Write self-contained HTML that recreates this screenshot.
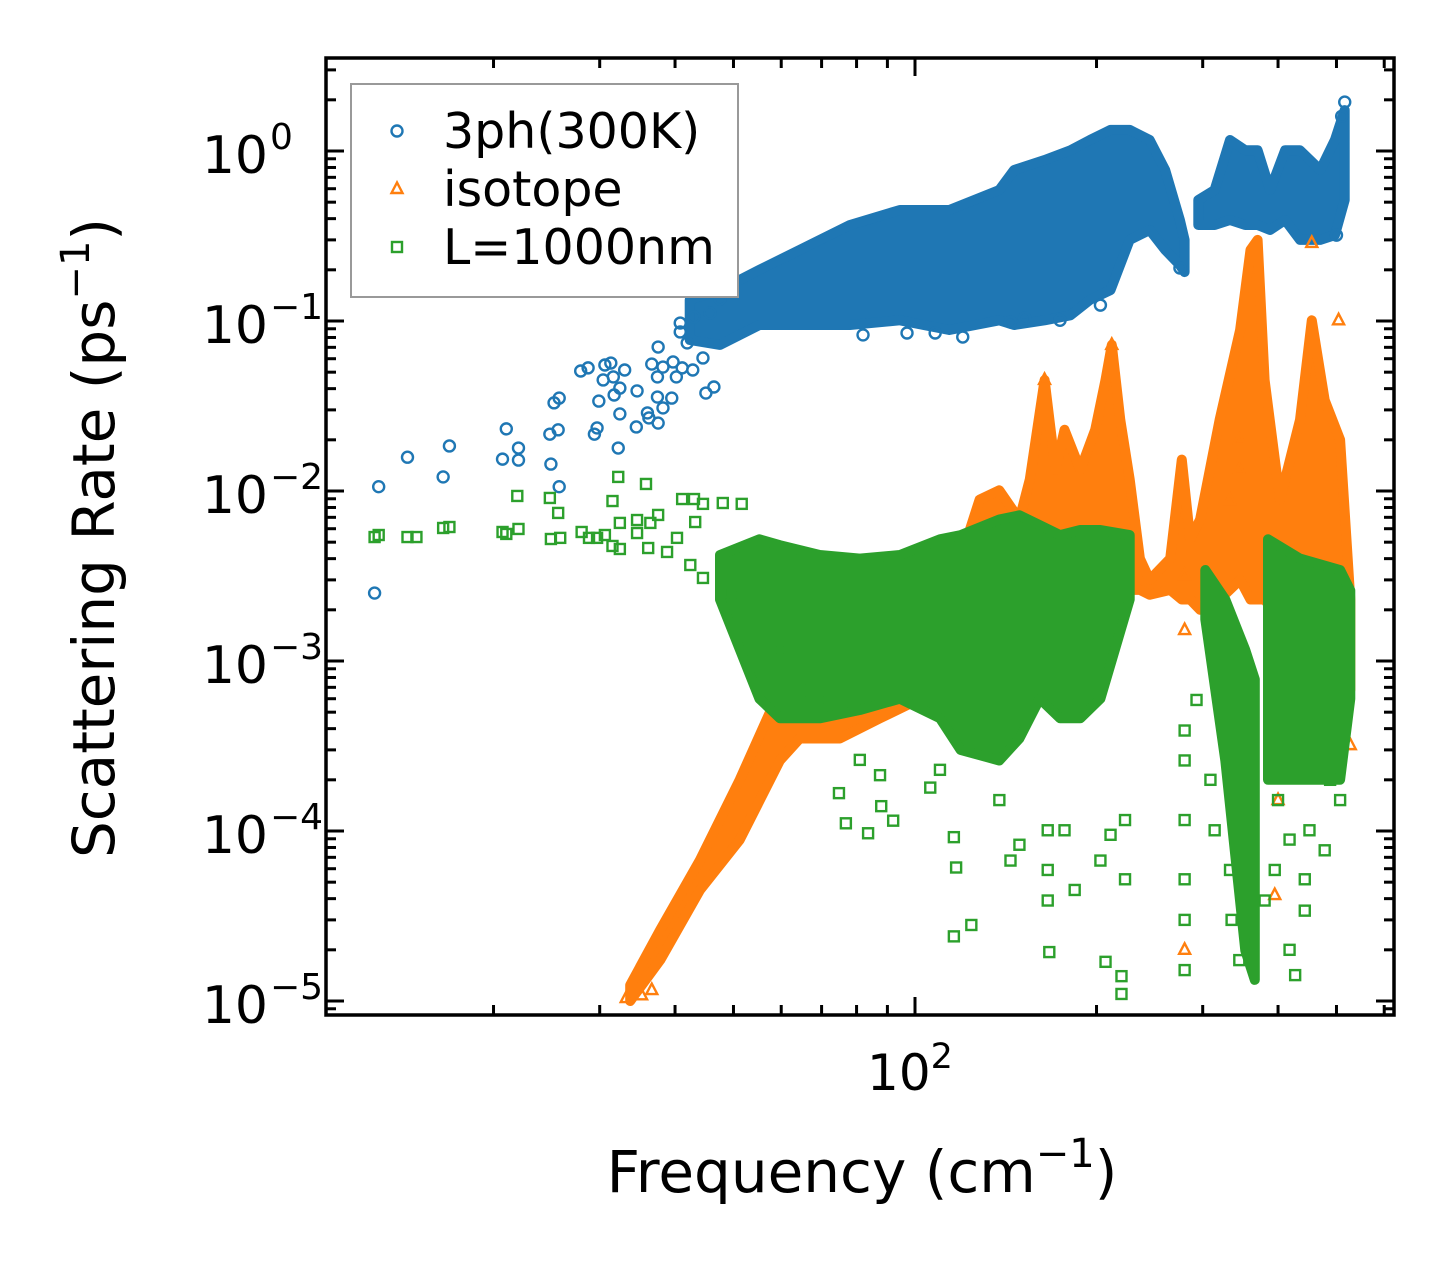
<!DOCTYPE html>
<html><head><meta charset="utf-8">
<style>
html,body{margin:0;padding:0;background:#fff;}
svg{display:block;font-family:"DejaVu Sans","Liberation Sans",sans-serif;}
</style></head>
<body>
<svg id="chart" xmlns="http://www.w3.org/2000/svg" width="1455" height="1265" viewBox="0 0 1455 1265">
<rect x="0" y="0" width="1455" height="1265" fill="#fff"/>
<g id="layer-blue"></g>
<g id="layer-orange"></g>
<g id="layer-green"></g>
<g id="axes"></g>
</svg>
<script>
// ---- data ----
const xMajorTicks = [100];
const xMinorTicks = [20,30,40,50,60,70,80,90,200,300,400,500,600];
const yMajorExps = [0,-1,-2,-3,-4,-5];
const yTickLabels = ["0","−1","−2","−3","−4","−5"];
const seriesNames = ["3ph(300K)","isotope","L=1000nm"];

// 3ph scattered points
const blueFreq = [12.7,12.9,14.4,16.5,16.9,21.0,20.7,22.0,22.0,24.8,24.9,25.7,25.6,25.2,25.7,27.9,28.7,30.6,31.3,33.0,30.4,31.6,32.4,31.7,29.9,34.6,32.4,29.7,29.4,32.2,34.5,36.0,36.2,37.5,37.4,38.2,39.5,36.6,37.4,38.2,40.2,41.1,42.8,45.0,46.4,37.5,40.8,43.0,40.8,44.5,47.5,45.7,41.9,39.7,82.0,97.0,108,120,144,152,174,203,275,500,516,510];
const blueRate = [0.00251,0.0106,0.0158,0.0121,0.0184,0.0232,0.0154,0.0179,0.0152,0.0216,0.0144,0.0106,0.0229,0.033,0.0352,0.0508,0.053,0.0551,0.0566,0.0515,0.045,0.0469,0.0403,0.0367,0.0338,0.0388,0.0284,0.0235,0.0216,0.0179,0.0238,0.0288,0.0269,0.0251,0.0357,0.0308,0.0352,0.0558,0.0469,0.0536,0.0469,0.053,0.0515,0.0377,0.0409,0.0703,0.0973,0.1056,0.0862,0.0606,0.135,0.1115,0.0743,0.0574,0.0828,0.085,0.085,0.0805,0.0986,0.104,0.101,0.124,0.205,0.32,1.94,1.6];
// 3ph dense envelope (two segments)
const blueBandFreq1 = [42.3,47.5,55.2,64.4,78.0,94.4,114,138,146,164,181,195,211,227,245,260,275,280];
const blueBandLow1  = [0.0773,0.0723,0.0947,0.0947,0.0947,0.101,0.0885,0.101,0.0947,0.101,0.108,0.133,0.152,0.30,0.343,0.262,0.213,0.194];
const blueBandHigh1 = [0.133,0.152,0.20,0.262,0.367,0.45,0.45,0.59,0.773,0.885,1.01,1.16,1.33,1.33,1.16,0.773,0.393,0.30];
const blueBandFreq2 = [295,314,333,353,370,388,411,435,470,497,516];
const blueBandLow2  = [0.367,0.367,0.393,0.367,0.367,0.343,0.393,0.30,0.30,0.32,0.515];
const blueBandHigh2 = [0.515,0.59,1.16,1.01,1.01,0.59,1.01,1.01,0.773,1.16,1.74];

// isotope envelope
const orangeBandFreq = [33.7,37.8,44.0,51.2,59.7,64.4,75.0,87.5,102,119,128,138,149,155,164,171,177,188,199,207,212,219,227,236,245,265,277,286,297,320,346,360,370,380,403,435,455,478,507,527];
const orangeBandLow  = [0.00001,0.0000174,0.000045,0.0000886,0.00026,0.00035,0.00035,0.00046,0.0006,0.00078,0.00135,0.00135,0.00176,0.00176,0.0023,0.0023,0.0023,0.0030,0.0030,0.00262,0.00262,0.00262,0.00262,0.00262,0.00245,0.00262,0.0023,0.0023,0.0020,0.0023,0.0030,0.0023,0.0023,0.0023,0.00176,0.00135,0.00135,0.00135,0.00116,0.000675];
const orangeBandHigh = [0.0000124,0.0000262,0.0000675,0.0002,0.000675,0.00103,0.00135,0.00135,0.00176,0.0040,0.0089,0.0101,0.0068,0.0117,0.045,0.0133,0.0229,0.0133,0.0229,0.045,0.0723,0.0262,0.0117,0.004,0.003,0.004,0.0153,0.0052,0.0068,0.0262,0.0885,0.262,0.30,0.045,0.0089,0.0262,0.101,0.0342,0.02,0.0023];
const orangeFreq = [33.2,36.6,35.2,280,280,280,333,333,345,345,400,455,504,516,527,395,212,164];
const orangeRate = [0.0000104,0.0000116,0.0000108,0.00152,0.0032,0.00002,0.00039,0.00885,0.02,0.0133,0.000152,0.288,0.101,0.000675,0.00032,0.000042,0.0723,0.045];

// boundary envelope (three segments)
const greenBandFreq1 = [47.5,55.2,59.7,69.5,81.0,94.4,110,119,138,149,161,174,188,203,227];
const greenBandLow1  = [0.0023,0.0006,0.00046,0.00046,0.000515,0.0006,0.00046,0.0003,0.00026,0.00035,0.0006,0.00046,0.00046,0.0006,0.0023];
const greenBandHigh1 = [0.0042,0.0052,0.0048,0.0042,0.004,0.0042,0.0052,0.0055,0.0068,0.0072,0.0063,0.0055,0.0059,0.0059,0.0055];
const greenBandFreq2 = [303,327,353,366];
const greenBandLow2  = [0.00176,0.00026,0.0000198,0.0000133];
const greenBandHigh2 = [0.00343,0.0023,0.00116,0.00078];
const greenBandFreq3 = [385,435,507,527];
const greenBandLow3  = [0.0002,0.0002,0.0002,0.0006];
const greenBandHigh3 = [0.0052,0.004,0.00343,0.0026];
const greenFreq = [12.7,12.9,14.4,14.9,16.5,16.9,20.7,21.0,22.0,21.9,24.8,25.6,24.9,25.8,28.0,28.8,29.7,30.6,32.2,35.8,31.5,32.4,34.6,37.5,36.4,31.5,32.4,34.6,36.1,41.1,43.0,44.5,48.0,51.6,43.2,40.3,38.8,42.4,44.5,47.9,49.9,
 76.8,83.6,92,74.8,87.9,106,116,117,116,124,167,207,220,220,138,144,166,166,166,177,184,203,211,223,223,149,280,280,280,280,280,280,293,309,314,333,335,345,380,395,400,418,443,443,451,478,488,507,418,427,110,81,87.5,69.5,64.4,59.7,57.4,55.2];
const greenRate = [0.00536,0.00551,0.00536,0.00536,0.00606,0.00614,0.00574,0.00559,0.00598,0.00935,0.0091,0.00743,0.00522,0.0053,0.00574,0.0053,0.0053,0.00551,0.0121,0.011,0.00873,0.00649,0.00675,0.00723,0.00649,0.00475,0.00456,0.00566,0.00462,0.00897,0.00897,0.0084,0.0085,0.0084,0.00657,0.0053,0.00438,0.00367,0.00308,0.00255,0.00245,
 0.000111,0.000097,0.000115,0.000167,0.00014,0.00018,0.000092,0.000061,0.000024,0.000028,0.0000194,0.000017,0.000014,0.000011,0.000152,0.000067,0.000059,0.000039,0.000101,0.000101,0.000045,0.000067,0.000095,0.000052,0.000116,0.000083,0.000052,0.000116,0.00026,0.00039,0.00003,0.0000152,0.00059,0.0002,0.000101,0.000059,0.00003,0.0000174,0.000039,0.000059,0.000152,0.000089,0.000052,0.000034,0.000101,0.000077,0.0002,0.000152,0.00002,0.0000142,0.000229,0.000262,0.000213,0.00059,0.00067,0.00116,0.00152,0.002];

// ---- layout / scales ----
const L=326,R=1394,T=58,B=1015;
const X100=915, XDEC=603, Y0=151, YDEC=170;
function xs(f){return X100+(Math.log10(f)-2)*XDEC;}
function ys(r){return Y0-Math.log10(r)*YDEC;}
const NS="http://www.w3.org/2000/svg";
function mk(tag,attrs,parent){const e=document.createElementNS(NS,tag);for(const k in attrs)e.setAttribute(k,attrs[k]);parent.appendChild(e);return e;}
const C={blue:"#1f77b4",orange:"#ff7f0e",green:"#2ca02c"};

function band(freq,low,high,color,layer,name){
  const pts=[];
  for(let i=0;i<freq.length;i++)pts.push(xs(freq[i]).toFixed(1)+","+ys(high[i]).toFixed(1));
  for(let i=freq.length-1;i>=0;i--)pts.push(xs(freq[i]).toFixed(1)+","+ys(low[i]).toFixed(1));
  const p=mk("polygon",{points:pts.join(" "),fill:color,stroke:color,"stroke-width":10,"stroke-linejoin":"round"},layer);
  
  
}
function circle(x,y,color,parent){return mk("circle",{cx:x,cy:y,r:5.5,fill:"none",stroke:color,"stroke-width":2.4},parent);}
function tri(x,y,color,parent){return mk("polygon",{points:`${x},${y-6.5} ${x-5.5},${y+4} ${x+5.5},${y+4}`,fill:"none",stroke:color,"stroke-width":2.4},parent);}
function sq(x,y,color,parent){return mk("rect",{x:x-5,y:y-5,width:10,height:10,fill:"none",stroke:color,"stroke-width":2.4},parent);}

const gb=document.getElementById("layer-blue"),go=document.getElementById("layer-orange"),gg=document.getElementById("layer-green");
band(blueBandFreq1,blueBandLow1,blueBandHigh1,C.blue,gb,"3ph-dense-region-1");
band(blueBandFreq2,blueBandLow2,blueBandHigh2,C.blue,gb,"3ph-dense-region-2");
for(let i=0;i<blueFreq.length;i++){
  const el=circle(xs(blueFreq[i]),ys(blueRate[i]),C.blue,gb);
  
  
}
band(orangeBandFreq,orangeBandLow,orangeBandHigh,C.orange,go,"isotope-dense-region");
for(let i=0;i<orangeFreq.length;i++){
  const el=tri(xs(orangeFreq[i]),ys(orangeRate[i]),C.orange,go);
  
  
}
band(greenBandFreq1,greenBandLow1,greenBandHigh1,C.green,gg,"boundary-dense-region-1");
band(greenBandFreq2,greenBandLow2,greenBandHigh2,C.green,gg,"boundary-dense-region-2");
band(greenBandFreq3,greenBandLow3,greenBandHigh3,C.green,gg,"boundary-dense-region-3");
for(let i=0;i<greenFreq.length;i++){
  const el=sq(xs(greenFreq[i]),ys(greenRate[i]),C.green,gg);
  
  
}

// ---- axes ----
const ax=document.getElementById("axes");
const frame=mk("rect",{x:L,y:T,width:R-L,height:B-T,fill:"none",stroke:"#000","stroke-width":3.5},ax);


function tickLine(x1,y1,x2,y2,name){const t=mk("line",{x1,y1,x2,y2,stroke:"#000","stroke-width":3},ax);}
xMajorTicks.forEach(f=>{const x=xs(f);tickLine(x,B,x,B-18,"x-major-tick");tickLine(x,T,x,T+18,"x-major-tick-top");
  const t=mk("text",{x:x-5,y:1090,"font-size":50,"text-anchor":"middle",fill:"#000"},ax);
  
  
  t.textContent="10";const s=mk("tspan",{"font-size":35,dy:-22},t);s.textContent="2";});
xMinorTicks.forEach(f=>{const x=xs(f);if(x>R-2)return;tickLine(x,B,x,B-10,"x-minor-tick");tickLine(x,T,x,T+10,"x-minor-tick-top");});
yMajorExps.forEach((e,i)=>{const y=Y0-e*YDEC;tickLine(L,y,L+18,y,"y-major-tick");tickLine(R,y,R-18,y,"y-major-tick-right");
  const t=mk("text",{x:268,y:y+22,"font-size":52,"text-anchor":"end",fill:"#000"},ax);
  
  
  t.textContent="10";
  const s=mk("tspan",{x:270,"font-size":36,dy:-24,"text-anchor":"start"},t);s.textContent=yTickLabels[i];});
for(let e=-6;e<=0;e++){for(let m=2;m<=9;m++){const y=ys(m*Math.pow(10,e));if(y<T+2||y>B-2)continue;tickLine(L,y,L+10,y,"y-minor-tick");tickLine(R,y,R-10,y,"y-minor-tick-right");}}

const xl=mk("text",{x:862,y:1192,"font-size":58,"text-anchor":"middle",fill:"#000"},ax);


xl.textContent="Frequency (cm";
let s1=mk("tspan",{"font-size":40,dy:-25},xl);s1.textContent="−1";
let s2=mk("tspan",{dy:25},xl);s2.textContent=")";
const yl=mk("text",{x:0,y:0,"font-size":58,"text-anchor":"middle",fill:"#000",transform:"translate(114,538) rotate(-90)"},ax);


yl.textContent="Scattering Rate (ps";
let s3=mk("tspan",{"font-size":40,dy:-25},yl);s3.textContent="−1";
let s4=mk("tspan",{dy:25},yl);s4.textContent=")";

// legend
const lg=mk("g",{},ax);


mk("rect",{x:351,y:84,width:387,height:213,fill:"#fff",stroke:"#999","stroke-width":2},lg);
const lgY=[131,189,247];
const markerFns=[circle,tri,sq];const cols=[C.blue,C.orange,C.green];
seriesNames.forEach((n,i)=>{
  const m=markerFns[i](397,lgY[i],cols[i],lg);
  
  
  const t=mk("text",{x:443,y:lgY[i]+17,"font-size":49,fill:"#000"},lg);
  
  
  t.textContent=n;
});
</script>
</body></html>
